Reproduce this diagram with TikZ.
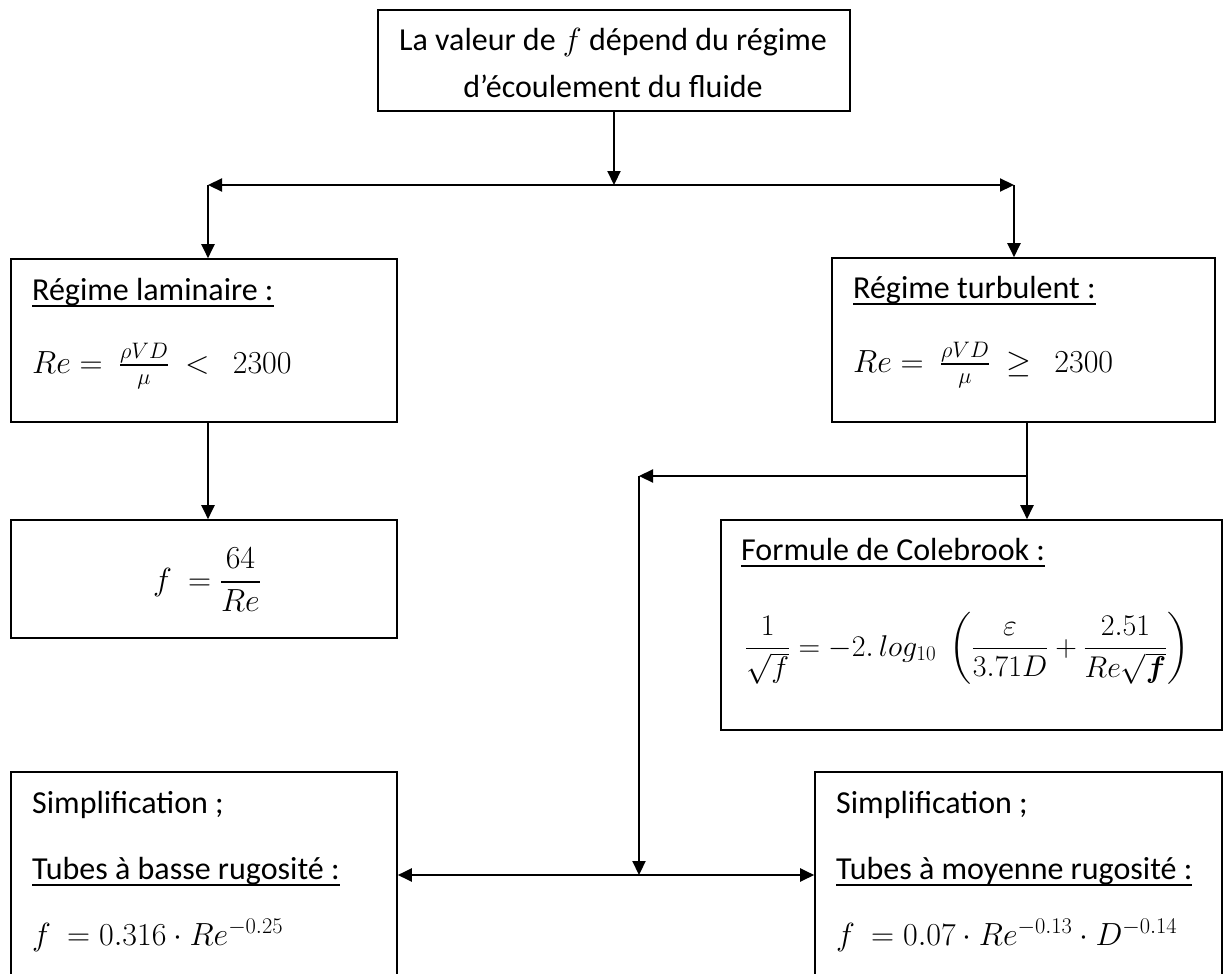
\RequirePackage{fix-cm}
\documentclass[tikz,border=0pt]{standalone}
\usepackage{amsmath,amssymb}
\usepackage{fontspec}
\setmainfont{Carlito}
\usetikzlibrary{arrows.meta,fit}
\newcommand\ulx[1]{\setbox0\hbox{#1}\rlap{\raisebox{-7pt}{\rule{\wd0}{2.2pt}}}\box0}
\begin{document}
\begin{tikzpicture}[x=1pt,y=-1pt,
 box/.style={draw,line width=1.6pt,inner sep=0pt},
 conn/.style={line width=2.2pt},
 arr/.style={conn,-{Triangle[length=14pt,width=13pt]}},
 darr/.style={conn,{Triangle[length=14pt,width=13pt]}-{Triangle[length=14pt,width=13pt]}},
 txt/.style={inner sep=0pt,anchor=base west,font=\fontsize{32}{46}\selectfont},
 ctxt/.style={txt,anchor=base},
]
\clip (0,0) rectangle (1227,974);
\fill[white] (0,0) rectangle (1227,974);
% boxes
\node[box,fit={(378,10) (850,111)}] (top) {};
\node[box,fit={(11,259) (397,422)}] (lam) {};
\node[box,fit={(11,520) (397,638)}] (f64) {};
\node[box,fit={(832,258) (1215,422)}] (turb) {};
\node[box,fit={(721,520) (1222,730)}] (cole) {};
\node[box,fit={(11,772) (397,990)}] (ll) {};
\node[box,fit={(815,772) (1222,990)}] (lr) {};
% texts
\node[ctxt] (t1) at (613,51) {La valeur de $f$ dépend du régime};
\node[ctxt] (t2) at (613,97) {d’écoulement du fluide};
\node[txt] (lamh) at (32,300) {\ulx{Régime laminaire :}};
\node[txt] (lamf) at (32,373) {$Re=\ \frac{\rho VD}{\mu}\ <\ \ 2300$};
\node[txt] (turbh) at (853,298) {\ulx{Régime turbulent :}};
\node[txt] (turbf) at (853,372) {$Re=\ \frac{\rho VD}{\mu}\ \geq\ \ 2300$};
\node[ctxt] (f64t) at (207,590) {$f\ = \dfrac{64}{Re}$};
\node[txt] (coleh) at (741,560) {\ulx{Formule de Colebrook :}};
\node[txt,font=\fontsize{30}{40}\selectfont] (colef) at (745,656) {$\dfrac{1}{\sqrt{f}}=-2.\,log_{10}\;\left(\dfrac{\varepsilon}{3.71D}+\dfrac{2.51}{Re\sqrt{\boldsymbol{f}}}\right)$};
\node[txt] (lls) at (32,813) {Simplification ;};
\node[txt] (llt) at (32,879) {\ulx{Tubes à basse rugosité :}};
\node[txt] (llf) at (32,945) {$f\ = 0.316\cdot Re^{-0.25}$};
\node[txt] (lrs) at (836,813) {Simplification ;};
\node[txt] (lrt) at (836,879) {\ulx{Tubes à moyenne rugosité :}};
\node[txt] (lrf) at (836,945) {$f\ = 0.07\cdot Re^{-0.13}\cdot D^{-0.14}$};
% connectors
\coordinate (hl) at (208,185);
\coordinate (hr) at (1014,185);
\coordinate (tb) at (1027,476);
\coordinate (mid) at (639,476);
\coordinate (bm) at (639,875);
\draw[darr] (hl) -- (hr);
\draw[arr] (top.south) -- (top.south |- hl);
\draw[arr] (hl) -- (hl |- lam.north);
\draw[arr] (hr) -- (hr |- turb.north);
\draw[arr] (hl |- lam.south) -- (hl |- f64.north);
\draw[conn] (tb |- turb.south) -- (tb);
\draw[arr] (tb) -- (tb |- cole.north);
\draw[arr] (tb) -- (mid);
\draw[arr] (mid) -- (bm);
\draw[darr] (ll.east |- bm) -- (lr.west |- bm);
\end{tikzpicture}
\end{document}
